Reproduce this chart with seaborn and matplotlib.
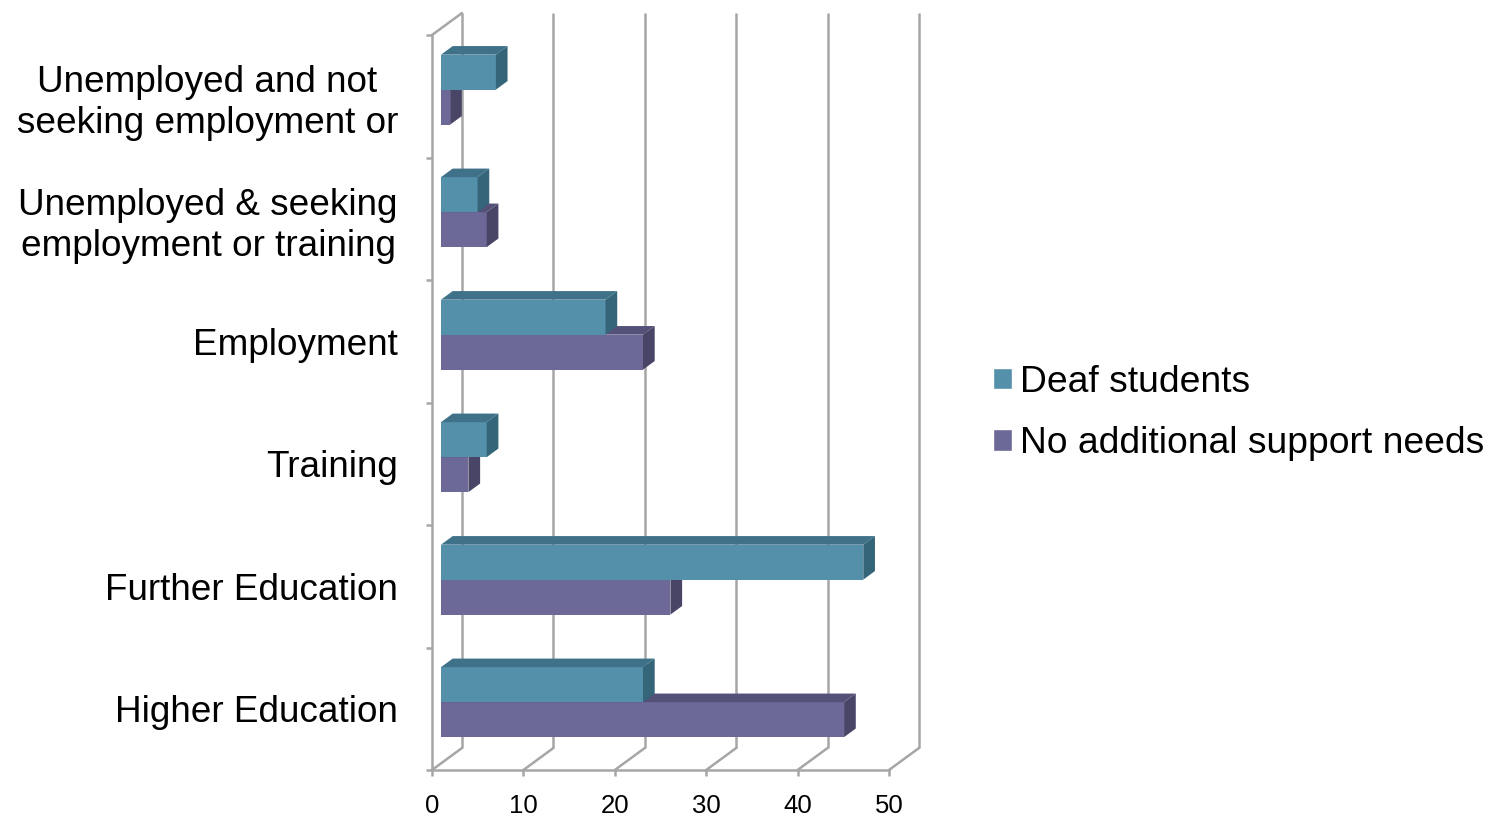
import matplotlib
matplotlib.use("Agg")
import matplotlib.pyplot as plt
import matplotlib.transforms as mtransforms
from matplotlib.patches import Patch, Polygon
import numpy as np
import pandas as pd
import seaborn as sns

categories = ["Unemployed and not\nseeking employment or",
              "Unemployed & seeking\nemployment or training",
              "Employment",
              "Training",
              "Further Education",
              "Higher Education"]
groups = ["Deaf students", "No additional support needs"]
deaf = [6.0, 4.0, 18.0, 5.0, 46.2, 22.1]
no_asn = [1.0, 5.0, 22.1, 3.0, 25.1, 44.1]
x_ticks = [0, 10, 20, 30, 40, 50]

df = pd.DataFrame({
    "category": categories * 2,
    "group": [groups[0]] * len(categories) + [groups[1]] * len(categories),
    "value": deaf + no_asn,
})

front = ["#5590AB", "#6C6897"]
top = ["#3F7189", "#545178"]
side = ["#346578", "#484567"]
grid_c = "#A6A6A6"

sns.set_style("white")
plt.rcParams["font.family"] = ["Liberation Sans", "DejaVu Sans"]
plt.rcParams["text.color"] = "black"

W, H = 1490, 818
fig = plt.figure(figsize=(W / 100, H / 100), dpi=100)
ax = fig.add_axes([432 / W, (H - 770) / H, 457 / W, 735 / H])

sns.barplot(data=df, x="value", y="category", hue="group", orient="h",
            palette=front, saturation=1, width=0.571, linewidth=0,
            legend=False, ax=ax)
ax.set_xlim(0, 50)
ax.set_ylim(5.5, -0.5)

# pixel -> data conversions for the fake 3D look
ux = 457 / 50
uy = 735 / 6
bar_depth = (11.7 / ux, -8.6 / uy)
wall_depth = (30 / ux, -22 / uy)
bar_shift = mtransforms.offset_copy(ax.transData, fig=fig, x=9, y=6.6, units="dots")

n = len(categories)
for i, p in enumerate(list(ax.patches)):
    g = 0 if i < n else 1
    z = 4 if g == 0 else 3
    p.set_transform(bar_shift)
    p.set_zorder(z)
    p.set_clip_on(False)
    x0, y0 = p.get_x(), p.get_y()
    x1, y1 = x0 + p.get_width(), y0 + p.get_height()
    dx, dy = bar_depth
    top_face = Polygon([(x0, y0), (x1, y0), (x1 + dx, y0 + dy), (x0 + dx, y0 + dy)],
                       closed=True, facecolor=top[g], edgecolor="none",
                       transform=bar_shift, zorder=z, clip_on=False)
    right_face = Polygon([(x1, y0), (x1, y1), (x1 + dx, y1 + dy), (x1 + dx, y0 + dy)],
                         closed=True, facecolor=side[g], edgecolor="none",
                         transform=bar_shift, zorder=z, clip_on=False)
    ax.add_patch(top_face)
    ax.add_patch(right_face)

# back wall gridlines and floor
wx, wy = wall_depth
lw = 1.8
for v in x_ticks:
    ax.plot([v + wx, v + wx], [5.5 + wy, -0.5 + wy], color=grid_c, lw=lw,
            clip_on=False, zorder=1, solid_capstyle="butt")
    ax.plot([v, v + wx], [5.5, 5.5 + wy], color=grid_c, lw=lw,
            clip_on=False, zorder=1)
ax.plot([0, wx], [-0.5, -0.5 + wy], color=grid_c, lw=lw, clip_on=False, zorder=1)

for s in ["top", "right"]:
    ax.spines[s].set_visible(False)
for s in ["left", "bottom"]:
    ax.spines[s].set_color(grid_c)
    ax.spines[s].set_linewidth(lw)

ax.set_xlabel("")
ax.set_ylabel("")
ax.set_xticks(x_ticks)
ax.set_xticklabels([str(t) for t in x_ticks], fontsize=18.5)
ax.set_yticks(range(n))
ax.set_yticklabels(categories, fontsize=26.6)
ax.set_yticks(np.arange(-0.5, n, 1), minor=True)
for lbl in ax.get_yticklabels():
    lbl.set_multialignment("center")
    lbl.set_linespacing(1.22)
ax.tick_params(axis="y", which="major", left=True, length=0, pad=24.5, labelcolor="black")
ax.tick_params(axis="y", which="minor", left=True, length=4.5, width=lw, color=grid_c,
               direction="out")
ax.tick_params(axis="x", which="major", bottom=True, length=4.5, width=lw, color=grid_c,
               direction="out", pad=13, labelcolor="black")
ax.grid(False)
ax.set_facecolor("none")

handles = [Patch(facecolor=front[0], label=groups[0]),
           Patch(facecolor=front[1], label=groups[1])]
fig.legend(handles=handles, loc="center left", bbox_to_anchor=(993 / W, 1 - 413 / H),
           frameon=False, fontsize=26.8, handlelength=0.52, handleheight=0.52,
           handletextpad=0.2, labelspacing=0.72, borderaxespad=0, borderpad=0,
           labelcolor="black")

fig.savefig("out.png", dpi=100)
